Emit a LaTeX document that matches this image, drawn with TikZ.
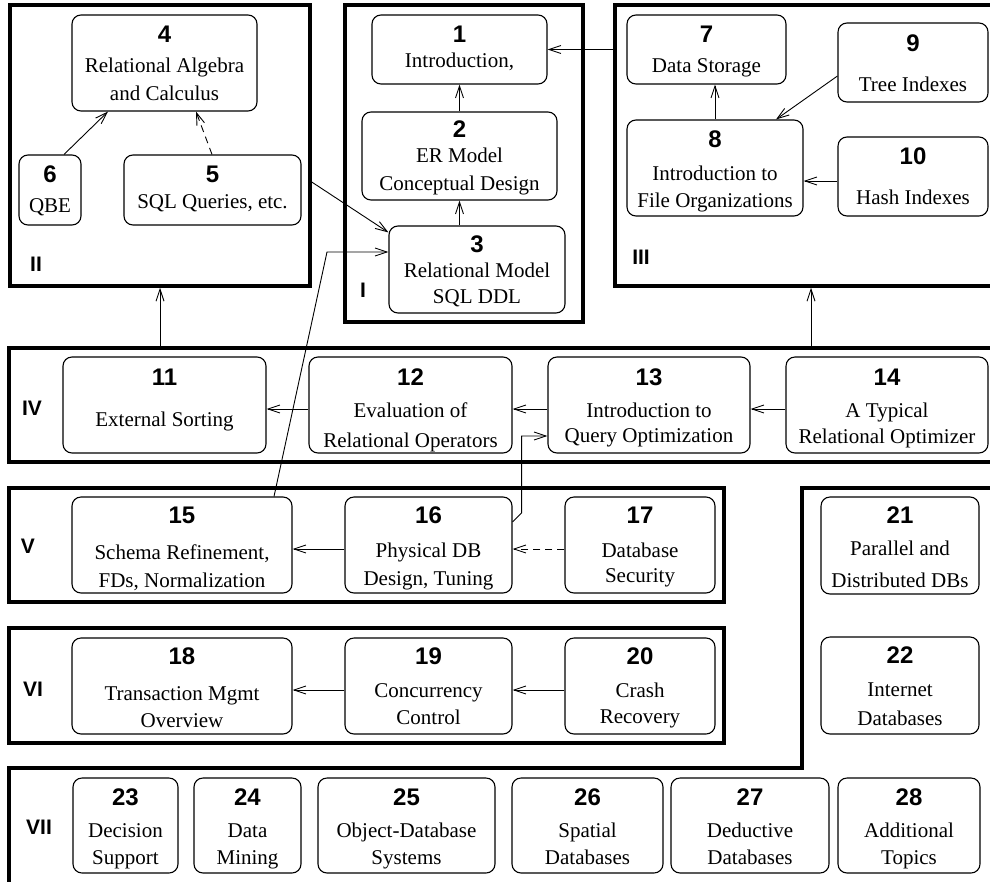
\documentclass[tikz,border=0pt]{standalone}
\usepackage{fontspec}
\setmainfont{Liberation Serif}
\newfontfamily\numfam{Liberation Sans}
\usetikzlibrary{arrows.meta,calc}
\newcommand\nf{\numfam\bfseries\fontsize{24}{24}\selectfont}
\newcommand\onel[3]{\vtop{\baselineskip=0pt\lineskiplimit=-1000pt\lineskip=0pt\halign{\hfil##\hfil\cr{\nf #1}\cr\noalign{\vskip#2pt}#3\cr}}}
\newcommand\twol[5]{\vtop{\baselineskip=0pt\lineskiplimit=-1000pt\lineskip=0pt\halign{\hfil##\hfil\cr{\nf #1}\cr\noalign{\vskip#2pt}#3\cr\noalign{\vskip#4pt}#5\cr}}}
\tikzset{
  bx/.code n args={3}{\pgfmathsetmacro\bxdep{#2-#3}\edef\bxtmp{\noexpand\pgfkeysalso{minimum width=#1pt, minimum height=#2pt, text height=#3pt, text depth=\bxdep pt}}\bxtmp},
  box/.style={draw, line width=1.1pt, rounded corners=9pt, inner sep=0pt, font=\fontsize{21}{27}\selectfont},
  sec/.style={draw, line width=3.5pt, inner sep=0pt},
  lab/.style={font=\numfam\bfseries\fontsize{21}{21}\selectfont, inner sep=0pt},
  arr/.style={line width=0.9pt, -{Straight Barb[length=12pt,width=8pt]}},
}
\begin{document}
\begin{tikzpicture}[x=1pt,y=-1pt]
\clip (0,0) rectangle (990,881);
\fill[white] (0,0) rectangle (990,881);
% section frames
\node[sec, minimum width=300pt, minimum height=281pt] (sII) at (160,145.5) {};
\node[sec, minimum width=238pt, minimum height=317pt] (sI) at (464,163.5) {};
\node[sec, minimum width=392pt, minimum height=281pt] (sIII) at (811,145.5) {};
\node[sec, minimum width=998pt, minimum height=114pt] (sIV) at (508,405) {};
\node[sec, minimum width=715pt, minimum height=114pt] (sV) at (366.5,545) {};
\node[sec, minimum width=715pt, minimum height=115pt] (sVI) at (366.5,685.5) {};
\draw[line width=3.5pt] (1000,488) -- (802,488) -- (802,768) -- (9,768) -- (9,900);
% section labels
\node[lab] (lII) at (36,264) {II};
\node[lab] (lI) at (363,290) {I};
\node[lab] (lIII) at (641,257) {III};
\node[lab] (lIV) at (32,408) {IV};
\node[lab] (lV) at (28,546) {V};
\node[lab] (lVI) at (33,689) {VI};
\node[lab] (lVII) at (39,827) {VII};
% chapter boxes
\node[box, bx={175}{69}{27}] (n1) at (459.5,49.5) {\onel{1}{25}{Introduction,}};
\node[box, bx={195}{88}{25}] (n2) at (459.5,156) {\twol{2}{25}{ER Model}{28}{Conceptual Design}};
\node[box, bx={176}{87}{26}] (n3) at (477,269.5) {\twol{3}{25}{Relational Model}{26}{SQL DDL}};
\node[box, bx={185}{96}{27}] (n4) at (164.5,63) {\twol{4}{30}{Relational Algebra}{28}{and Calculus}};
\node[box, bx={177}{70}{27}] (n5) at (212.5,190) {\onel{5}{26}{SQL Queries, etc.}};
\node[box, bx={62}{70}{27}] (n6) at (50,190) {\onel{6}{30}{QBE}};
\node[box, bx={159}{69}{27}] (n7) at (706.5,49.5) {\onel{7}{30}{Data Storage}};
\node[box, bx={176}{96}{27}] (n8) at (715,168) {\twol{8}{33}{Introduction to}{27}{File Organizations}};
\node[box, bx={150}{79}{28}] (n9) at (913,62.5) {\onel{9}{40}{Tree Indexes}};
\node[box, bx={150}{79}{27}] (n10) at (913,176.5) {\onel{10}{40}{Hash Indexes}};
\node[box, bx={203}{96}{28}] (n11) at (164.5,405) {\onel{11}{41}{External Sorting}};
\node[box, bx={203}{96}{28}] (n12) at (410.5,405) {\twol{12}{32}{Evaluation of}{30}{Relational Operators}};
\node[box, bx={202}{96}{28}] (n13) at (649,405) {\twol{13}{32}{Introduction to}{25}{Query Optimization}};
\node[box, bx={202}{96}{28}] (n14) at (887,405) {\twol{14}{32}{A Typical}{26}{Relational Optimizer}};
\node[box, bx={220}{96}{26}] (n15) at (182,545) {\twol{15}{36}{Schema Refinement,}{28}{FDs, Normalization}};
\node[box, bx={167}{96}{26}] (n16) at (428.5,545) {\twol{16}{34}{Physical DB}{28}{Design, Tuning}};
\node[box, bx={150}{96}{26}] (n17) at (640,545) {\twol{17}{34}{Database}{25}{Security}};
\node[box, bx={220}{96}{26}] (n18) at (182,686) {\twol{18}{36}{Transaction Mgmt}{27}{Overview}};
\node[box, bx={167}{96}{26}] (n19) at (428.5,686) {\twol{19}{33}{Concurrency}{27}{Control}};
\node[box, bx={150}{96}{26}] (n20) at (640,686) {\twol{20}{33}{Crash}{26}{Recovery}};
\node[box, bx={158}{97}{26}] (n21) at (900,545.5) {\twol{21}{32}{Parallel and}{32}{Distributed DBs}};
\node[box, bx={158}{97}{26}] (n22) at (900,685.5) {\twol{22}{33}{Internet}{29}{Databases}};
\node[box, bx={105}{95}{27}] (n23) at (125.5,825.5) {\twol{23}{32}{Decision}{27}{Support}};
\node[box, bx={107}{95}{27}] (n24) at (247.5,825.5) {\twol{24}{32}{Data}{27}{Mining}};
\node[box, bx={177}{95}{27}] (n25) at (406.5,825.5) {\twol{25}{32}{Object-Database}{27}{Systems}};
\node[box, bx={151}{95}{27}] (n26) at (587.5,825.5) {\twol{26}{32}{Spatial}{27}{Databases}};
\node[box, bx={158}{95}{27}] (n27) at (750,825.5) {\twol{27}{32}{Deductive}{27}{Databases}};
\node[box, bx={142}{95}{27}] (n28) at (909,825.5) {\twol{28}{32}{Additional}{27}{Topics}};
% connectors
\draw[arr] (n2.north) -- (n1.south);
\draw[arr] (n3.north -| n2.south) -- (n2.south);
\draw[arr] (sIII.west |- n1.east) -- (n1.east);
\draw[arr] (n8.north) -- (n8.north |- n7.south);
\draw[arr] ([yshift=-13.5pt]n9.west) -- ([xshift=61pt]n8.north);
\draw[arr] ([yshift=-4.5pt]n10.west) -- ([yshift=-4.5pt]n10.west -| n8.east);
\draw[arr] ([xshift=14pt]n6.north) -- ([xshift=-56.5pt]n4.south);
\draw[arr, dash pattern=on 7pt off 5pt] ([xshift=-0.5pt]n5.north) -- ([xshift=31.5pt]n4.south);
\draw[arr] ([yshift=-36.5pt]sII.east) -- ([yshift=-7pt]n3.north west);
\coordinate (k1) at (327,252);
\draw[arr] ([xshift=92pt]n15.north) -- (k1) -- ([yshift=17.5pt]n3.west);
\draw[arr] (sIV.north -| sII.south) -- (sII.south);
\draw[arr] (sIV.north -| sIII.south) -- (sIII.south);
\draw[arr] ([yshift=-4pt]n12.west) -- ([yshift=-4pt]n11.east);
\draw[arr] ([yshift=-4pt]n13.west) -- ([yshift=-4pt]n12.east);
\draw[arr] ([yshift=-4pt]n14.west) -- ([yshift=-4pt]n13.east);
\draw[arr] ([yshift=23pt]n16.east) -- ++(9,-9) |- ([yshift=-31pt]n13.west);
\draw[arr] ([yshift=-4pt]n16.west) -- ([yshift=-4pt]n15.east);
\draw[arr, dash pattern=on 7pt off 5pt] ([yshift=-4pt]n17.west) -- ([yshift=-4pt]n16.east);
\draw[arr] ([yshift=-4pt]n19.west) -- ([yshift=-4pt]n18.east);
\draw[arr] ([yshift=-4pt]n20.west) -- ([yshift=-4pt]n19.east);
\end{tikzpicture}
\end{document}
